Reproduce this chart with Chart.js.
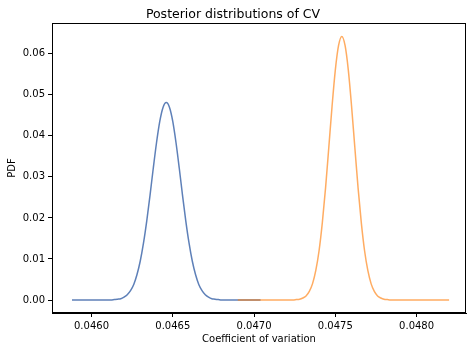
<!DOCTYPE html>
<html>
<head>
<meta charset="utf-8">
<script src="https://cdn.jsdelivr.net/npm/chart.js@4"></script>
<style>
  html, body { margin: 0; padding: 0; background: #fff; }
  #wrap { width: 472px; height: 352px; }
</style>
</head>
<body>
<div id="wrap"><canvas id="cv" width="472" height="352"></canvas></div>
<script>
// coefficient of variation grid + pdf values
const blueX = [
  0.04588, 0.04590, 0.04592, 0.04594, 0.04596, 0.04598, 0.04600, 0.04602, 0.04604, 0.04606,
  0.04608, 0.04610, 0.04612, 0.04614, 0.04616, 0.04618, 0.04620, 0.04622, 0.04624, 0.04626,
  0.04628, 0.04630, 0.04632, 0.04634, 0.04636, 0.04638, 0.04640, 0.04642, 0.04644, 0.04646,
  0.04648, 0.04650, 0.04652, 0.04654, 0.04656, 0.04658, 0.04660, 0.04662, 0.04664, 0.04666,
  0.04668, 0.04670, 0.04672, 0.04674, 0.04676, 0.04678, 0.04680, 0.04682, 0.04684, 0.04686,
  0.04688, 0.04690, 0.04692, 0.04694, 0.04696, 0.04698, 0.04700, 0.04702, 0.04704
];
const bluePdf = [
  0, 0, 0, 0, 0, 0, 0, 0, 0, 0,
  0, 0, 0, 0.0001, 0.0002, 0.0003, 0.0007, 0.0013, 0.0023, 0.0038,
  0.0062, 0.0095, 0.0139, 0.0193, 0.0255, 0.0321, 0.0383, 0.0435, 0.0469, 0.0481,
  0.0469, 0.0435, 0.0383, 0.0321, 0.0255, 0.0193, 0.0139, 0.0095, 0.0062, 0.0038,
  0.0023, 0.0013, 0.0007, 0.0003, 0.0002, 0.0001, 0, 0, 0, 0,
  0, 0, 0, 0, 0, 0, 0, 0, 0
];
const orangeX = [
  0.04690, 0.04692, 0.04694, 0.04696, 0.04698, 0.04700, 0.04702, 0.04704, 0.04706, 0.04708,
  0.04710, 0.04712, 0.04714, 0.04716, 0.04718, 0.04720, 0.04722, 0.04724, 0.04726, 0.04728,
  0.04730, 0.04732, 0.04734, 0.04736, 0.04738, 0.04740, 0.04742, 0.04744, 0.04746, 0.04748,
  0.04750, 0.04752, 0.04754, 0.04756, 0.04758, 0.04760, 0.04762, 0.04764, 0.04766, 0.04768,
  0.04770, 0.04772, 0.04774, 0.04776, 0.04778, 0.04780, 0.04782, 0.04784, 0.04786, 0.04788,
  0.04790, 0.04792, 0.04794, 0.04796, 0.04798, 0.04800, 0.04802, 0.04804, 0.04806, 0.04808,
  0.04810, 0.04812, 0.04814, 0.04816, 0.04818, 0.04820
];
const orangePdf = [
  0, 0, 0, 0, 0, 0, 0, 0, 0, 0,
  0, 0, 0, 0, 0, 0, 0, 0, 0.0001, 0.0002,
  0.0005, 0.0010, 0.0021, 0.0040, 0.0072, 0.0120, 0.0188, 0.0273, 0.0372, 0.0472,
  0.0560, 0.0620, 0.0642, 0.0620, 0.0560, 0.0472, 0.0372, 0.0273, 0.0188, 0.0120,
  0.0072, 0.0040, 0.0021, 0.0010, 0.0005, 0.0002, 0.0001, 0, 0, 0,
  0, 0, 0, 0, 0, 0, 0, 0, 0, 0,
  0, 0, 0, 0, 0, 0
];
const xTicks = [0.0460, 0.0465, 0.0470, 0.0475, 0.0480];
const yTicks = [0.00, 0.01, 0.02, 0.03, 0.04, 0.05, 0.06];

const FONT = "'DejaVu Sans', sans-serif";
Chart.defaults.font.family = FONT;
Chart.defaults.color = "#000";

const toPoints = (xs, ys) => xs.map((x, i) => ({ x: x, y: ys[i] }));

// full box around the plot area (matplotlib spines)
const frame = {
  id: "frame",
  afterDraw(chart) {
    const a = chart.chartArea;
    const ctx = chart.ctx;
    ctx.save();
    ctx.strokeStyle = "#000";
    ctx.lineWidth = 1;
    ctx.strokeRect(Math.round(a.left) + 0.5, Math.round(a.top) + 0.5,
      Math.round(a.right - a.left) - 1, Math.round(a.bottom - a.top) - 1);
    ctx.restore();
  }
};

new Chart(document.getElementById("cv"), {
  type: "line",
  data: {
    datasets: [
      {
        data: toPoints(blueX, bluePdf),
        borderColor: "rgba(76, 114, 176, 0.9)",
        borderWidth: 1.5,
        pointRadius: 0,
        cubicInterpolationMode: "monotone",
        order: 1,
      },
      {
        data: toPoints(orangeX, orangePdf),
        borderColor: "rgba(255, 127, 14, 0.65)",
        borderWidth: 1.5,
        pointRadius: 0,
        cubicInterpolationMode: "monotone",
        order: 0,
      },
    ],
  },
  options: {
    responsive: false,
    animation: false,
    layout: { padding: { left: 0, right: 6, top: 0, bottom: 0 } },
    plugins: {
      legend: { display: false },
      tooltip: { enabled: false },
      title: {
        display: true,
        text: "Posterior distributions of CV",
        font: { size: 12.5, weight: "normal", family: FONT },
        color: "#000",
        padding: { top: 7, bottom: 1 },
      },
    },
    scales: {
      x: {
        type: "linear",
        min: 0.045757,
        max: 0.048304,
        afterBuildTicks: (s) => { s.ticks = xTicks.map((v) => ({ value: v })); },
        afterFit: (s) => { s.height = 39; },
        ticks: {
          font: { size: 10 },
          color: "#000",
          padding: 3,
          maxRotation: 0,
          callback: (v) => Number(v).toFixed(4),
        },
        grid: { drawOnChartArea: false, drawTicks: true, tickLength: 4, color: "#000" },
        border: { display: true, color: "#000" },
        title: {
          display: true,
          text: "Coefficient of variation",
          font: { size: 10 },
          color: "#000",
          padding: { top: 2, bottom: 7 },
        },
      },
      y: {
        type: "linear",
        min: -0.00316,
        max: 0.06747,
        afterBuildTicks: (s) => { s.ticks = yTicks.map((v) => ({ value: v })); },
        afterFit: (s) => { s.width = 52; },
        ticks: {
          font: { size: 10 },
          color: "#000",
          padding: 3,
          callback: (v) => Number(v).toFixed(2),
        },
        grid: { drawOnChartArea: false, drawTicks: true, tickLength: 4, color: "#000" },
        border: { display: true, color: "#000" },
        title: {
          display: true,
          text: "PDF",
          font: { size: 10 },
          color: "#000",
          padding: { top: 6, bottom: 2 },
        },
      },
    },
  },
  plugins: [frame],
});
</script>
</body>
</html>
